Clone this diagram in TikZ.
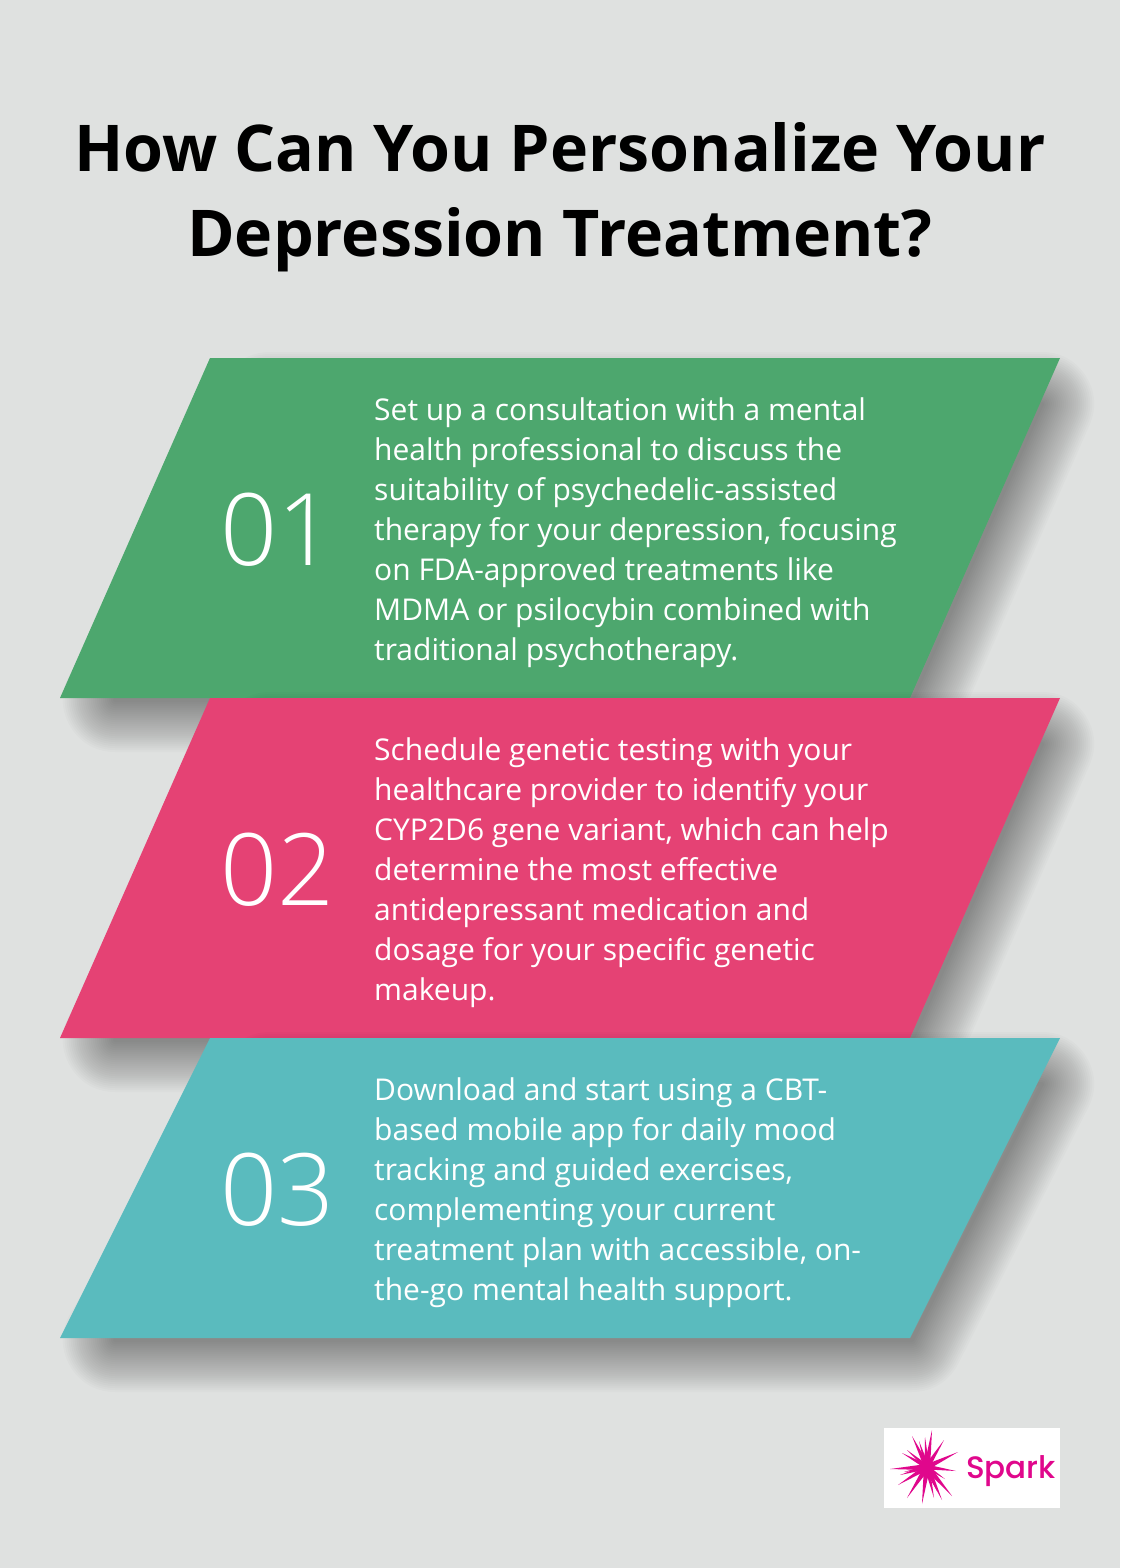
\documentclass[tikz,border=0pt]{standalone}
\usepackage{fontspec}
\setmainfont{Open Sans}
\newfontfamily\numfont{Open Sans Light}
\newfontfamily\logofont{Poppins Medium}
\usepackage{tikz}
\usetikzlibrary{positioning}
\definecolor{pagebg}{HTML}{DFE1E0}
\definecolor{slabgreen}{HTML}{4DA76E}
\definecolor{slabpink}{HTML}{E54274}
\definecolor{slabteal}{HTML}{5ABBBE}
\definecolor{sparkpink}{HTML}{E0078C}
% soft shadow, then the slab: colour, top y, bottom y
\newcommand{\slab}[3]{%
  \foreach \w in {4,8,...,104}
    \draw[black, opacity=0.016, line width=\w pt, line join=round]
      (270,#2+46) -- (1042,#2+46) -- (912,#3+2) -- (115,#3+2) -- cycle;
  \fill[#1] (210,#2) -- (1060,#2) -- (910,#3) -- (60,#3) -- cycle;
}

\begin{document}
\begin{tikzpicture}[
  x=1pt, y=-1pt,
  headline/.style={font=\fontsize{64.5}{85}\selectfont\bfseries, align=center, inner sep=0pt, anchor=north, text=black},
  stepnum/.style={font=\fontsize{100}{100}\numfont, text=white, inner sep=0pt, anchor=base west},
  steptext/.style={font=\fontsize{30}{40}\selectfont, text=white, align=left, inner sep=0pt, anchor=north west}
]
  \fill[pagebg] (0,0) rectangle (1120,1568);
  \path[use as bounding box] (0,0) rectangle (1120,1568);

  % Title
  \node[headline] (title) at (560,122) {How Can You Personalize Your\\Depression Treatment?};

  % Slab 01
  \slab{slabgreen}{358}{698}
  \node[stepnum] (num1) at (220,565) {01};
  \node[steptext] (text1) at (374,397) {Set up a consultation with a mental\\health professional to discuss the\\suitability of psychedelic-assisted\\therapy for your depression, focusing\\on FDA-approved treatments like\\MDMA or psilocybin combined with\\traditional psychotherapy.};

  % Slab 02
  \slab{slabpink}{698}{1038}
  \node[stepnum] (num2) at (220,905) {02};
  \node[steptext] (text2) at (374,737) {Schedule genetic testing with your\\healthcare provider to identify your\\CYP2D6 gene variant, which can help\\determine the most effective\\antidepressant medication and\\dosage for your specific genetic\\makeup.};

  % Slab 03
  \slab{slabteal}{1038}{1338}
  \node[stepnum] (num3) at (220,1225) {03};
  \node[steptext] (text3) at (374,1077) {Download and start using a CBT-\\based mobile app for daily mood\\tracking and guided exercises,\\complementing your current\\treatment plan with accessible, on-\\the-go mental health support.};

  % Logo
  \fill[white] (884,1428) rectangle (1060,1508);
  \begin{scope}[shift={(927,1467)}]
    \foreach \dx/\dy in {5/-37,-15/-31,17/-27,31/-15,-25/-14,-37/2,29/4,-29/18,25/29,15/33,-5/37,-20/31,7/31,-2/-30,-23/5,18/12,-20/-17,-8/-26,10/24,-27/8}
      \fill[sparkpink] (\dx,\dy) -- ({\dy/12},{-\dx/12}) -- ({-\dy/12},{\dx/12}) -- cycle;
    \fill[sparkpink] (0,0) circle (7);
  \end{scope}
  \node[font=\fontsize{31}{31}\logofont, text=sparkpink, inner sep=0pt, anchor=base west] (spark) at (966,1478) {Spark};
\end{tikzpicture}
\end{document}
